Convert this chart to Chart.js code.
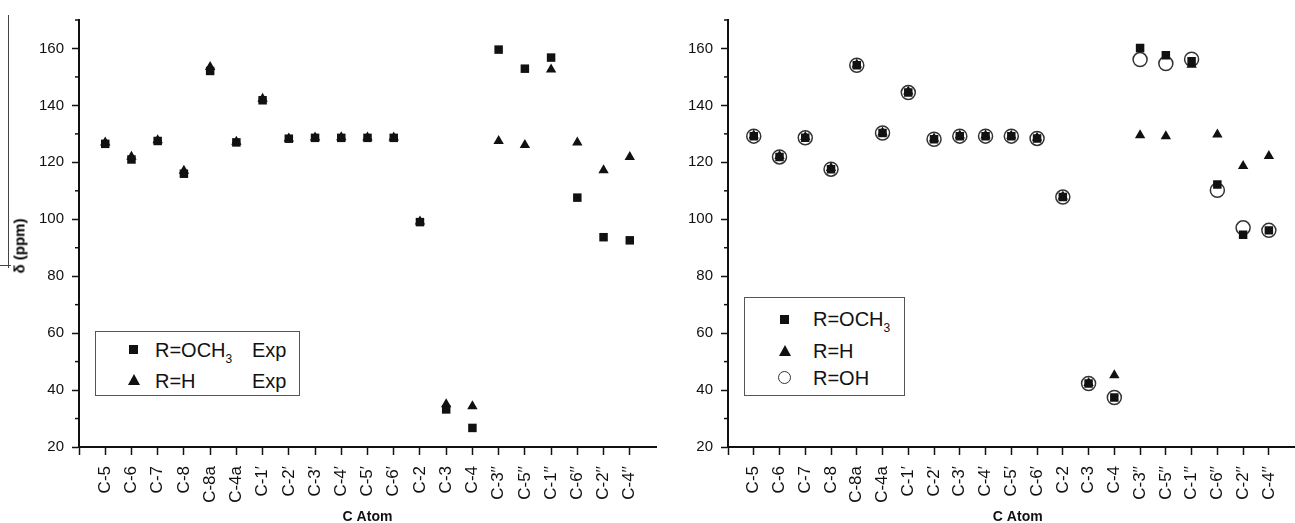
<!DOCTYPE html>
<html>
<head>
<meta charset="utf-8">
<script src="https://cdn.jsdelivr.net/npm/chart.js@4"></script>
<style>
    body { margin: 0; background: #fff; font-family: 'Liberation Sans', Arial, sans-serif; overflow: hidden; }
    .box { position: absolute; top: 0; height: 526px; }
    #left-box { left: 0; width: 662px; }
    #right-box { left: 650px; width: 666px; }
    .legend { position: absolute; border: 1px solid #555; background: #fff; font-size: 20px; color: #111; }
    .legend .row { position: absolute; white-space: nowrap; line-height: 20px; }
    .legend sub { font-size: 12px; vertical-align: -6px; }
    .sq { position: absolute; width: 9px; height: 9px; background: #111; }
    .tri { position: absolute; width: 0; height: 0; border-left: 6px solid transparent; border-right: 6px solid transparent; border-bottom: 11px solid #111; }
    .circ { position: absolute; width: 13px; height: 13px; border: 1.5px solid #333; border-radius: 50%; box-sizing: border-box; }
    #ylabel { position: absolute; left: 19px; top: 246px; transform: translate(-50%, -50%) rotate(-90deg); font-weight: bold; font-size: 15px; white-space: nowrap; }
    #edge { position: absolute; left: 8px; top: 15px; width: 0; height: 253px; border-left: 1px solid #444; }
    #stub { position: absolute; left: 0; top: 265px; width: 11px; height: 0; border-top: 1px solid #444; }
</style>
</head>
<body>
<div id="edge"></div>
<div id="stub"></div>
<div class="box" id="left-box"><canvas id="leftChart"></canvas></div>
<div class="box" id="right-box"><canvas id="rightChart"></canvas></div>
<div id="ylabel">δ (ppm)</div>

<div class="legend" style="left:95px; top:331px; width:203px; height:63px;">
    <div class="sq" style="left:33px; top:13px;"></div>
    <div class="row" style="left:59px; top:8px;">R=OCH<sub>3</sub></div>
    <div class="row" style="left:156px; top:8px;">Exp</div>
    <div class="tri" style="left:32px; top:42px;"></div>
    <div class="row" style="left:59px; top:39px;">R=H</div>
    <div class="row" style="left:156px; top:39px;">Exp</div>
</div>

<div class="legend" style="left:744px; top:297px; width:159px; height:97px;">
    <div class="sq" style="left:35px; top:17px;"></div>
    <div class="row" style="left:68px; top:11px;">R=OCH<sub>3</sub></div>
    <div class="tri" style="left:34px; top:47px;"></div>
    <div class="row" style="left:68px; top:43px;">R=H</div>
    <div class="circ" style="left:33px; top:73px;"></div>
    <div class="row" style="left:68px; top:70px;">R=OH</div>
</div>

<script>
const categories = ['C-5', 'C-6', 'C-7', 'C-8', 'C-8a', 'C-4a', 'C-1′', 'C-2′', 'C-3′', 'C-4′', 'C-5′', 'C-6′',
    'C-2', 'C-3', 'C-4', 'C-3′′', 'C-5′′', 'C-1′′', 'C-6′′', 'C-2′′', 'C-4′′'];

// left panel (experimental)
const leftOch3 = [126.5, 121, 127.5, 116, 152.1, 127, 141.8, 128.3, 128.6, 128.6, 128.6, 128.6, 99, 33.2, 26.7, 159.6, 152.9, 156.8, 107.6, 93.7, 92.6];
const leftH = [127, 122, 127.8, 117, 153.5, 127.2, 142.3, 128.4, 128.7, 128.8, 128.7, 128.7, 99.2, 35, 34.3, 127.5, 126.1, 152.6, 127, 117.2, 121.9];

// right panel
const rightOch3 = [129.2, 121.9, 128.6, 117.6, 154.1, 130.3, 144.5, 128.1, 129.2, 129.2, 129.2, 128.4, 107.8, 42.3, 37.4, 160.2, 157.6, 155.5, 112.2, 94.6, 96.1];
const rightH = [129.4, 122.2, 128.9, 118, 154.4, 130.5, 144.9, 128.4, 129.4, 129.4, 129.3, 128.6, 108, 42.5, 45.2, 129.5, 129.2, 154.3, 129.8, 118.7, 122.2];
const rightOh = [129.2, 121.9, 128.6, 117.6, 154.1, 130.3, 144.5, 128.1, 129.2, 129.2, 129.2, 128.4, 107.8, 42.3, 37.4, 156.1, 154.7, 156.2, 110.2, 97, 96.1];

const yMajor = [20, 40, 60, 80, 100, 120, 140, 160];
const yMinor = [30, 50, 70, 90, 110, 130, 150, 170];

const FONT = "'Liberation Sans', Arial, sans-serif";
const INK = '#111';

function toPoints(values) {
    return values.map((v, i) => ({ x: i, y: v }));
}

// short minor ticks on the y axis
const minorTicks = {
    id: 'minorTicks',
    afterDraw(chart) {
        const ctx = chart.ctx;
        const y = chart.scales.y;
        const left = chart.chartArea.left;
        ctx.save();
        ctx.strokeStyle = INK;
        ctx.lineWidth = 1.5;
        yMinor.forEach(v => {
            const py = y.getPixelForValue(v);
            ctx.beginPath();
            ctx.moveTo(left - 4, py);
            ctx.lineTo(left, py);
            ctx.stroke();
        });
        ctx.restore();
    }
};

function makeChart(id, datasets, xMax, yWidth) {
    const ctx = document.getElementById(id).getContext('2d');
    return new Chart(ctx, {
        type: 'scatter',
        data: { datasets: datasets },
        options: {
            responsive: true,
            maintainAspectRatio: false,
            animation: false,
            layout: { padding: { top: 20, right: 0, left: 0, bottom: 0 } },
            plugins: {
                legend: { display: false },
                tooltip: { enabled: false }
            },
            scales: {
                x: {
                    type: 'linear',
                    min: -1,
                    max: xMax,
                    afterBuildTicks: scale => {
                        scale.ticks = [];
                        for (let i = -1; i < categories.length; i++) scale.ticks.push({ value: i });
                    },
                    afterFit: scale => { scale.height = 79; },
                    border: { color: INK, width: 2 },
                    grid: { drawOnChartArea: false, color: INK, tickLength: 8, tickWidth: 1.5 },
                    ticks: {
                        autoSkip: false,
                        minRotation: 90,
                        maxRotation: 90,
                        padding: 11,
                        color: INK,
                        font: { family: FONT, size: 17 },
                        callback: v => categories[v] || ''
                    },
                    title: {
                        display: true,
                        text: 'C Atom',
                        color: INK,
                        padding: { top: 0, bottom: 0 },
                        font: { family: FONT, size: 14, weight: 'bold' }
                    }
                },
                y: {
                    min: 20,
                    max: 170,
                    afterBuildTicks: scale => {
                        scale.ticks = yMajor.map(v => ({ value: v }));
                    },
                    afterFit: scale => { scale.width = yWidth; },
                    border: { color: INK, width: 2 },
                    grid: { drawOnChartArea: false, color: INK, tickLength: 7, tickWidth: 1.5 },
                    ticks: {
                        padding: 8,
                        color: INK,
                        font: { family: FONT, size: 15 }
                    }
                }
            }
        },
        plugins: [minorTicks]
    });
}

const squareStyle = { pointStyle: 'rect', pointRadius: 6, backgroundColor: INK, borderColor: INK, borderWidth: 0 };
const triangleStyle = { pointStyle: 'triangle', pointRadius: 6, backgroundColor: INK, borderColor: INK, borderWidth: 0 };
const circleStyle = { pointStyle: 'circle', pointRadius: 7, backgroundColor: 'rgba(0,0,0,0)', borderColor: '#333', borderWidth: 1.5 };

makeChart('leftChart', [
    Object.assign({ label: 'R=OCH3 Exp', data: toPoints(leftOch3) }, squareStyle),
    Object.assign({ label: 'R=H Exp', data: toPoints(leftH) }, triangleStyle)
], 21, 79);

makeChart('rightChart', [
    Object.assign({ label: 'R=OCH3', data: toPoints(rightOch3) }, squareStyle),
    Object.assign({ label: 'R=H', data: toPoints(rightH) }, triangleStyle),
    Object.assign({ label: 'R=OH', data: toPoints(rightOh) }, circleStyle)
], 21.5, 78);
</script>
</body>
</html>
